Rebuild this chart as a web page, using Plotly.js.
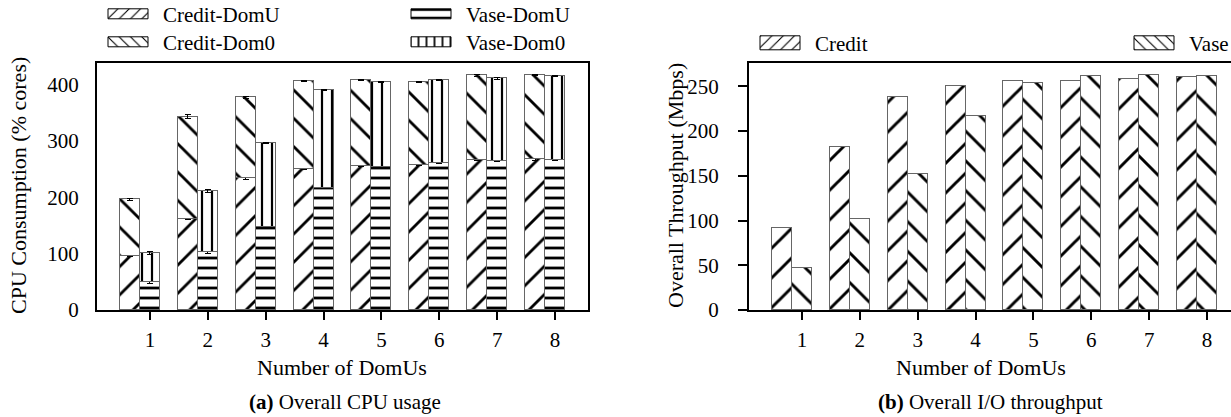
<!DOCTYPE html>
<html>
<head>
<meta charset="utf-8">
<script src="https://cdn.plot.ly/plotly-3.0.1.min.js"></script>
<style>
html,body{margin:0;padding:0;overflow:hidden;background:#fff;}
#chart{width:1250px;height:417px;}
</style>
</head>
<body>
<div id="chart"></div>
<script>
// ---- data ----
const domUs = [1, 2, 3, 4, 5, 6, 7, 8];
const tickLabels = ['1', '2', '3', '4', '5', '6', '7', '8'];

// (a) CPU consumption (% cores), stacked segments
const creditDomU = [95, 162, 234, 250, 256, 257, 266, 267];
const creditDom0 = [101, 181, 143, 156, 152, 148, 150, 150];
const vaseDomU   = [49, 102, 148, 216, 253, 261, 264, 266];
const vaseDom0   = [52, 109, 148, 174, 152, 147, 147, 149];
const creditDomUErr = [1, 1, 2, 1, 1, 1, 1, 1];
const creditDom0Err = [1, 3, 2, 1, 1, 1, 2, 1];
const vaseDomUErr   = [2, 2, 1, 1, 1, 1, 1, 1];
const vaseDom0Err   = [2, 2, 1, 1, 1, 1, 2, 1];

// (b) Overall I/O throughput (Mbps)
const creditTput = [92, 182, 238, 250, 256, 256, 258, 260];
const vaseTput   = [47, 102, 152, 217, 254, 262, 263, 261];

const cpuTicks  = [0, 100, 200, 300, 400];
const tputTicks = [0, 50, 100, 150, 200, 250];

// ---- layout helpers ----
const W = 1250, H = 417;
const px = v => v / W;
const py = v => 1 - v / H;
const BW = 0.345;                       // bar width in category units
const creditX = domUs.map(d => d - BW); // Credit bar sits left of the tick
const vaseX = domUs.slice();            // Vase bar is centred on the tick
const FONT = '"Liberation Serif", "DejaVu Serif", serif';
const FS_TICK = 21, FS_TITLE = 22, FS_LEG = 21, FS_CAP = 21;
const outline = {color: '#666', width: 1};
const errStyle = arr => ({type: 'data', array: arr, visible: true, color: '#000', thickness: 1, width: 3});
const pat = (shape, size, solidity) => ({shape: shape, size: size, solidity: solidity, fgcolor: '#000', bgcolor: '#fff', fillmode: 'replace'});

const traces = [
  {type: 'bar', name: 'Credit-DomU', x: creditX, y: creditDomU, width: BW, xaxis: 'x', yaxis: 'y',
   marker: {color: '#fff', line: outline, pattern: pat('/', 20, 0.14)}, error_y: errStyle(creditDomUErr)},
  {type: 'bar', name: 'Credit-Dom0', x: creditX, y: creditDom0, width: BW, xaxis: 'x', yaxis: 'y',
   marker: {color: '#fff', line: outline, pattern: pat('\\', 20, 0.14)}, error_y: errStyle(creditDom0Err)},
  {type: 'bar', name: 'Vase-DomU', x: vaseX, y: vaseDomU, width: BW, xaxis: 'x', yaxis: 'y',
   marker: {color: '#fff', line: outline, pattern: pat('-', 10, 0.28)}, error_y: errStyle(vaseDomUErr)},
  {type: 'bar', name: 'Vase-Dom0', x: vaseX, y: vaseDom0, width: BW, xaxis: 'x', yaxis: 'y',
   marker: {color: '#fff', line: outline, pattern: pat('|', 10, 0.22)}, error_y: errStyle(vaseDom0Err)},
  {type: 'bar', name: 'Credit', x: creditX, y: creditTput, width: BW, xaxis: 'x2', yaxis: 'y2',
   marker: {color: '#fff', line: outline, pattern: pat('/', 21, 0.14)}},
  {type: 'bar', name: 'Vase', x: vaseX, y: vaseTput, width: BW, xaxis: 'x2', yaxis: 'y2',
   marker: {color: '#fff', line: outline, pattern: pat('\\', 21, 0.14)}}
];

const tickFont = {family: FONT, size: FS_TICK, color: '#000'};
const xBase = {
  range: [0.085, 8.57], tickmode: 'array', tickvals: domUs, ticktext: tickLabels,
  ticks: 'outside', ticklen: 8, tickwidth: 1.5, tickcolor: '#000',
  showline: true, mirror: true, linewidth: 2, linecolor: '#000',
  showgrid: false, zeroline: false, tickfont: tickFont, ticklabelstandoff: 2, fixedrange: true
};
const yBase = {
  showline: true, mirror: true, linewidth: 2, linecolor: '#000',
  showgrid: false, zeroline: false, tickfont: tickFont, fixedrange: true
};

const ann = (text, x, y, size, extra) => Object.assign({text: text, xref: 'paper', yref: 'paper', x: px(x), y: py(y),
  xanchor: 'center', yanchor: 'middle', showarrow: false, font: {family: FONT, size: size, color: '#000'}}, extra || {});

const layout = {
  width: W, height: H,
  margin: {l: 0, r: 0, t: 0, b: 0},
  paper_bgcolor: '#fff', plot_bgcolor: '#fff',
  barmode: 'stack', bargap: 0,
  font: {family: FONT, color: '#000'},
  showlegend: true,
  legend: {orientation: 'v', bgcolor: 'rgba(0,0,0,0)', borderwidth: 0, itemwidth: 45,
    font: {family: FONT, size: FS_LEG, color: '#000'}, traceorder: 'normal', tracegroupgap: 0,
    x: px(108), y: 1, xanchor: 'left', yanchor: 'top', itemclick: false, itemdoubleclick: false},
  xaxis: Object.assign({}, xBase, {domain: [px(97), px(588)], anchor: 'y'}),
  yaxis: Object.assign({}, yBase, {domain: [py(310), py(63)], range: [0, 438], tickvals: cpuTicks,
    ticks: '', ticklabelstandoff: 12, anchor: 'x'}),
  xaxis2: Object.assign({}, xBase, {domain: [px(749), px(1240)], anchor: 'y2'}),
  yaxis2: Object.assign({}, yBase, {domain: [py(310), py(63)], range: [0, 276], tickvals: tputTicks,
    ticks: 'outside', ticklen: 9, tickwidth: 1.5, tickcolor: '#000', ticklabelstandoff: 15, anchor: 'x2'}),
  shapes: [
    {type: 'line', xref: 'x', yref: 'y', xsizemode: 'pixel', xanchor: 0.085, x0: -9, x1: 0, y0: 0, y1: 0,
     line: {color: '#000', width: 2}},
    {type: 'line', xref: 'x2', yref: 'y2', xsizemode: 'pixel', xanchor: 0.085, x0: -9, x1: 0, y0: 0, y1: 0,
     line: {color: '#000', width: 2}}
  ],
  annotations: [
    ann('CPU Consumption (% cores)', 18, 186, FS_TITLE, {textangle: -90}),
    ann('Overall Throughput (Mbps)', 675, 186, FS_TITLE, {textangle: -90}),
    ann('Number of DomUs', 342, 367, FS_TITLE),
    ann('Number of DomUs', 981, 367, FS_TITLE),
    ann('<b>(a)</b> Overall CPU usage', 345, 402, FS_CAP),
    ann('<b>(b)</b> Overall I/O throughput', 990, 402, FS_CAP)
  ]
};

// target placement of each legend entry: text left x, text centre y, swatch half-height
const legendTargets = {
  'Credit-DomU': [163, 15, 5],
  'Credit-Dom0': [163, 43, 5],
  'Vase-DomU':   [466, 15, 5],
  'Vase-Dom0':   [466, 43, 5],
  'Credit':      [815, 44, 7],
  'Vase':        [1189, 44, 7]
};

function placeLegendItems() {
  document.querySelectorAll('g.scrollbox').forEach(function (g) { g.removeAttribute('clip-path'); });
  document.querySelectorAll('text.legendtext').forEach(function (t) {
    try {
      const name = t.textContent.trim();
      const tg = legendTargets[name];
      if (!tg) return;
      let item = t.parentNode;
      while (item && !(item.classList && item.classList.contains('traces'))) item = item.parentNode;
      if (!item) item = t.parentNode;
      if (item.getAttribute('data-placed') !== '1') {
        const r = t.getBoundingClientRect();
        const dx = tg[0] - r.left, dy = tg[1] - (r.top + r.bottom) / 2;
        const tr = item.getAttribute('transform') || '';
        const mm = /translate\(\s*([-\d.e]+)[ ,]*([-\d.e]*)\s*\)/.exec(tr);
        const ox = mm ? parseFloat(mm[1]) : 0, oy = (mm && mm[2] !== '') ? parseFloat(mm[2]) : 0;
        item.setAttribute('transform', 'translate(' + (ox + dx) + ',' + (oy + dy) + ')');
        item.setAttribute('data-placed', '1');
      }
      const p = item.querySelector('.legendpoints path');
      if (!p || p.getAttribute('data-wide') === '1') return;
      const h = tg[2];
      const m = p.getCTM();
      const svg = p.ownerSVGElement;
      if (!m || !svg) return;
      const svgLeft = svg.getBoundingClientRect().left;
      const right = tg[0] - svgLeft - 15;
      const left = right - 40;
      const lx = (left - m.e) / m.a, rx = (right - m.e) / m.a;
      p.setAttribute('d', 'M' + lx + ',' + (-h) + 'H' + rx + 'V' + h + 'H' + lx + 'Z');
      p.setAttribute('data-wide', '1');
      p.style.strokeWidth = '1px';
      p.style.stroke = '#000';
    } catch (e) {}
  });
}

const gd = document.getElementById('chart');
Plotly.newPlot(gd, traces, layout, {displayModeBar: false}).then(function () {
  placeLegendItems();
  setTimeout(placeLegendItems, 0);
  setTimeout(placeLegendItems, 60);
});
</script>
</body>
</html>
